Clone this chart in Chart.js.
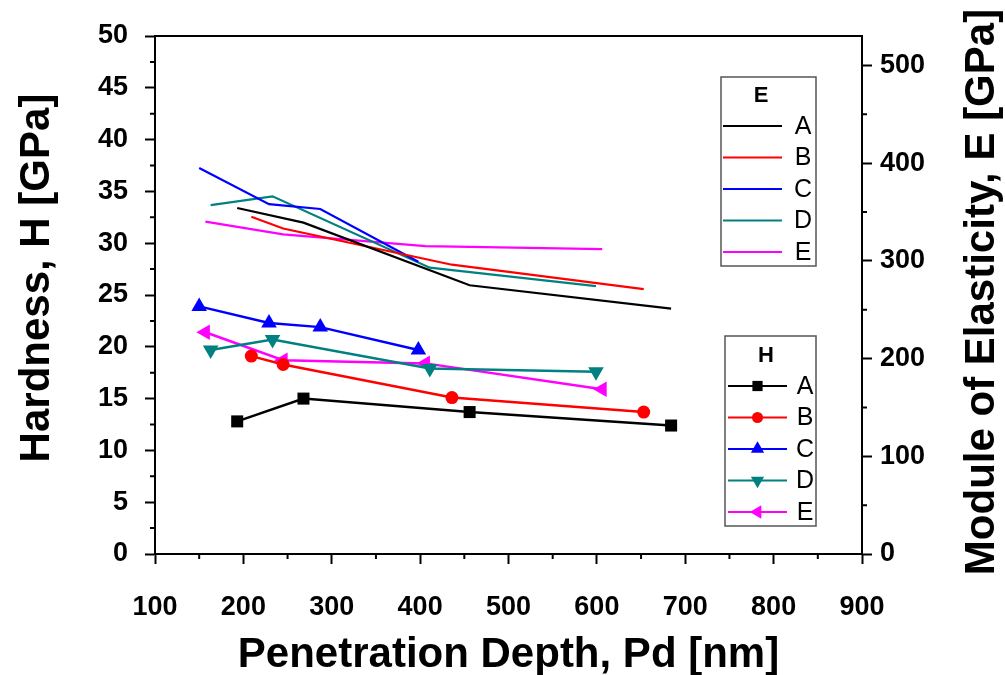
<!DOCTYPE html>
<html lang="en">
<head>
    <meta charset="UTF-8">
    <title>Hardness and Modulus vs Penetration Depth</title>
    <script src="https://cdn.jsdelivr.net/npm/chart.js"></script>
    <style>
        body { margin: 0; background: #fff; }
        canvas { display: block; }
    </style>
</head>
<body>
    <canvas id="depthChart" width="1005" height="675"></canvas>

    <script>
        // samples A..E
        const samples = ['A', 'B', 'C', 'D', 'E'];
        const colors = ['#000000', '#ff0000', '#0000ff', '#008080', '#ff00ff'];

        // penetration depth [nm] per sample
        const depthA = [193, 268, 456, 684];
        const depthB = [209, 245, 436, 653];
        const depthC = [150, 229, 287, 398];
        const depthD = [163, 233, 411, 599];
        const depthE = [157, 245, 406, 606];

        // hardness H [GPa]
        const hardA = [12.8, 15.0, 13.7, 12.4];
        const hardB = [19.1, 18.3, 15.1, 13.7];
        const hardC = [23.9, 22.3, 21.9, 19.7];
        const hardD = [19.7, 20.7, 17.9, 17.6];
        const hardE = [21.4, 18.7, 18.4, 15.9];

        // module of elasticity E [GPa]
        const modA = [354, 339, 275, 251];
        const modB = [345, 333, 296, 271];
        const modC = [395, 358, 353, 299];
        const modD = [357, 366, 293, 274];
        const modE = [340, 327, 315, 312];

        const depths = [depthA, depthB, depthC, depthD, depthE];
        const hardness = [hardA, hardB, hardC, hardD, hardE];
        const modulus = [modA, modB, modC, modD, modE];

        // marker per sample (H series)
        const markers = [
            { pointStyle: 'rect', radius: 8.5, rotation: 0 },
            { pointStyle: 'circle', radius: 6.5, rotation: 0 },
            { pointStyle: 'triangle', radius: 9, rotation: 0 },
            { pointStyle: 'triangle', radius: 9, rotation: 180 },
            { pointStyle: 'triangle', radius: 9, rotation: 270 }
        ];

        const fontFamily = "'Liberation Sans', Arial, sans-serif";

        const toPoints = (xs, ys) => xs.map((x, i) => ({ x: x, y: ys[i] }));

        const datasets = [];
        samples.forEach((s, i) => {
            datasets.push({
                label: 'H ' + s,
                data: toPoints(depths[i], hardness[i]),
                yAxisID: 'y',
                showLine: true,
                borderColor: colors[i],
                backgroundColor: colors[i],
                borderWidth: 2.5,
                pointStyle: markers[i].pointStyle,
                pointRadius: markers[i].radius,
                pointRotation: markers[i].rotation,
                pointBorderWidth: 0,
                tension: 0
            });
        });
        samples.forEach((s, i) => {
            datasets.push({
                label: 'E ' + s,
                data: toPoints(depths[i], modulus[i]),
                yAxisID: 'y2',
                showLine: true,
                borderColor: colors[i],
                backgroundColor: colors[i],
                borderWidth: 2.2,
                pointRadius: 0,
                tension: 0
            });
        });

        const tickFont = { family: fontFamily, size: 27, weight: 'bold' };
        const axisGrid = { drawOnChartArea: false, drawTicks: true, tickLength: 10, tickWidth: 2, tickColor: '#000' };
        const axisBorder = { display: true, color: '#000', width: 2 };

        // short ticks halfway between the labelled ones
        function minorTicks(ctx, scale, step, len) {
            const { min, max } = scale;
            ctx.beginPath();
            for (let v = min + step / 2; v < max; v += step) {
                const p = scale.getPixelForValue(v);
                if (scale.axis === 'x') {
                    ctx.moveTo(p, scale.top);
                    ctx.lineTo(p, scale.top + len);
                } else if (scale.position === 'left') {
                    ctx.moveTo(scale.right, p);
                    ctx.lineTo(scale.right - len, p);
                } else {
                    ctx.moveTo(scale.left, p);
                    ctx.lineTo(scale.left + len, p);
                }
            }
            ctx.stroke();
        }

        function legendBox(ctx, box, title, withMarkers) {
            ctx.strokeStyle = '#555';
            ctx.lineWidth = 1.5;
            ctx.strokeRect(box.x, box.y, box.w, box.h);

            ctx.fillStyle = '#000';
            ctx.textAlign = 'center';
            ctx.textBaseline = 'middle';
            ctx.font = 'bold 22px ' + fontFamily;
            ctx.fillText(title, box.titleX, box.titleY);

            samples.forEach((s, i) => {
                const y = box.firstY + i * box.gap;
                ctx.strokeStyle = colors[i];
                ctx.lineWidth = 2.2;
                ctx.beginPath();
                ctx.moveTo(box.lineX0, y);
                ctx.lineTo(box.lineX1, y);
                ctx.stroke();
                if (withMarkers) {
                    ctx.fillStyle = colors[i];
                    Chart.helpers.drawPoint(ctx, {
                        pointStyle: markers[i].pointStyle,
                        radius: markers[i].radius * 0.85,
                        rotation: markers[i].rotation,
                        borderWidth: 0
                    }, (box.lineX0 + box.lineX1) / 2, y);
                }
                ctx.fillStyle = '#000';
                ctx.font = '25px ' + fontFamily;
                ctx.fillText(s, box.labelX, y + 1);
            });
        }

        const decorations = {
            id: 'decorations',
            afterDraw(chart) {
                const { ctx, chartArea: a, scales } = chart;
                ctx.save();
                ctx.strokeStyle = '#000';
                ctx.lineWidth = 2;

                // top edge of the frame
                ctx.beginPath();
                ctx.moveTo(a.left, a.top);
                ctx.lineTo(a.right, a.top);
                ctx.stroke();

                minorTicks(ctx, scales.x, 100, 5);
                minorTicks(ctx, scales.y, 5, 5);
                minorTicks(ctx, scales.y2, 100, 5);

                // axis titles
                ctx.fillStyle = '#000';
                ctx.font = 'bold 42px ' + fontFamily;
                ctx.textAlign = 'center';
                ctx.textBaseline = 'middle';
                ctx.fillText('Penetration Depth, Pd [nm]', (a.left + a.right) / 2, 655);

                ctx.save();
                ctx.translate(37, 278);
                ctx.rotate(-Math.PI / 2);
                ctx.fillText('Hardness, H [GPa]', 0, 0);
                ctx.restore();

                ctx.save();
                ctx.translate(982, 292);
                ctx.rotate(-Math.PI / 2);
                ctx.fillText('Module of Elasticity, E [GPa]', 0, 0);
                ctx.restore();

                legendBox(ctx, { x: 721, y: 77, w: 95, h: 189, titleX: 761, titleY: 96,
                    firstY: 126, gap: 31.5, lineX0: 723, lineX1: 782, labelX: 803 }, 'E', false);
                legendBox(ctx, { x: 725, y: 336, w: 91, h: 190, titleX: 766, titleY: 356,
                    firstY: 386, gap: 31.5, lineX0: 728, lineX1: 787, labelX: 805 }, 'H', true);

                ctx.restore();
            }
        };

        // labelled ticks of the modulus axis stop at 500
        function modulusTicks(scale) {
            const ticks = [];
            for (let v = 0; v <= 500; v += 100) ticks.push({ value: v });
            scale.ticks = ticks;
        }

        const ctx = document.getElementById('depthChart').getContext('2d');
        new Chart(ctx, {
            type: 'scatter',
            data: { datasets: datasets },
            options: {
                responsive: false,
                animation: false,
                layout: { padding: { top: 36, left: 0, right: 0, bottom: 0 } },
                plugins: {
                    legend: { display: false },
                    tooltip: { enabled: false }
                },
                scales: {
                    x: {
                        type: 'linear',
                        position: 'bottom',
                        min: 100,
                        max: 900,
                        ticks: { stepSize: 100, color: '#000', font: tickFont, padding: 27, maxRotation: 0, autoSkip: false },
                        grid: axisGrid,
                        border: axisBorder,
                        afterFit: s => { s.height = 121; }
                    },
                    y: {
                        type: 'linear',
                        position: 'left',
                        min: 0,
                        max: 50,
                        ticks: { stepSize: 5, color: '#000', font: tickFont, padding: 17, autoSkip: false },
                        grid: axisGrid,
                        border: axisBorder,
                        afterFit: s => { s.width = 155; }
                    },
                    y2: {
                        type: 'linear',
                        position: 'right',
                        min: 0,
                        max: 530,
                        ticks: { stepSize: 100, color: '#000', font: tickFont, padding: 8, autoSkip: false },
                        grid: axisGrid,
                        border: axisBorder,
                        afterBuildTicks: modulusTicks,
                        afterFit: s => { s.width = 143; }
                    }
                }
            },
            plugins: [decorations]
        });
    </script>
</body>
</html>
